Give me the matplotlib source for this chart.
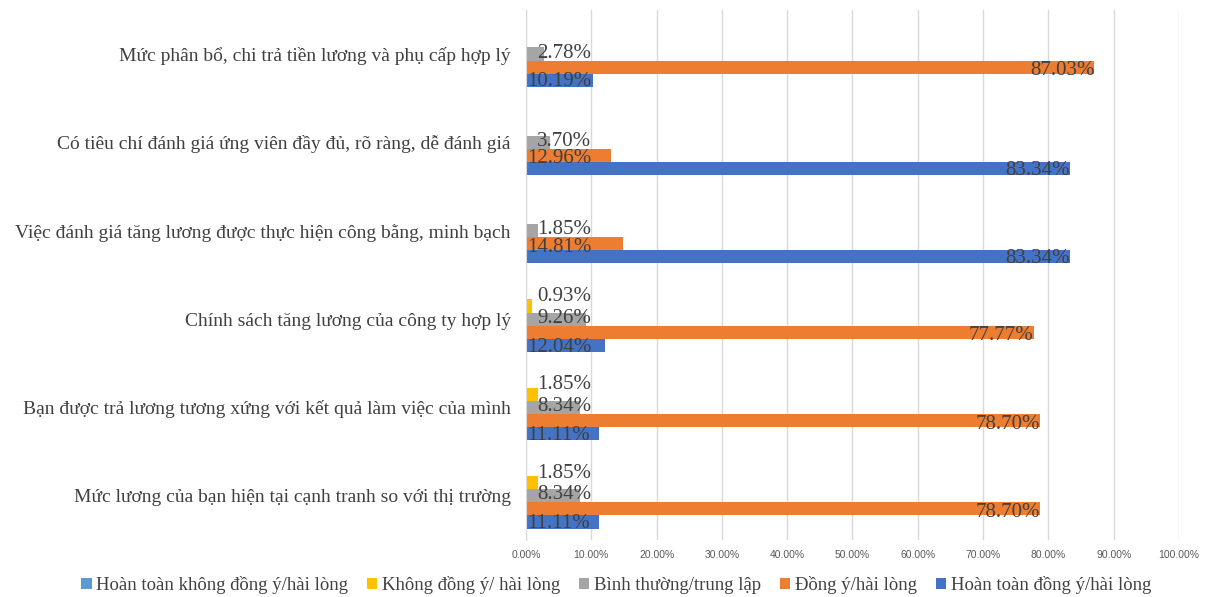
import matplotlib.pyplot as plt
import numpy as np

categories = [
    'Mức phân bổ, chi trả tiền lương và phụ cấp hợp lý',
    'Có tiêu chí đánh giá ứng viên đầy đủ, rõ ràng, dễ đánh giá',
    'Việc đánh giá tăng lương được thực hiện công bằng, minh bạch',
    'Chính sách tăng lương của công ty hợp lý',
    'Bạn được trả lương tương xứng với kết quả làm việc của mình',
    'Mức lương của bạn hiện tại cạnh tranh so với thị trường',
]
series_names = ['Hoàn toàn không đồng ý/hài lòng', 'Không đồng ý/ hài lòng',
                'Bình thường/trung lập', 'Đồng ý/hài lòng', 'Hoàn toàn đồng ý/hài lòng']
rat_kd = [0, 0, 0, 0, 0, 0]
kd = [0, 0, 0, 0.93, 1.85, 1.85]
binh_thuong = [2.78, 3.70, 1.85, 9.26, 8.34, 8.34]
dong_y = [87.03, 12.96, 14.81, 77.77, 78.70, 78.70]
rat_dy = [10.19, 83.34, 83.34, 12.04, 11.11, 11.11]
ticks = np.arange(0, 101, 10)

series = [rat_kd, kd, binh_thuong, dong_y, rat_dy]
colors = ['#5B9BD5', '#FFC000', '#A5A5A5', '#ED7D31', '#4472C4']
# vertical nudge of value labels per series (data units, + is down)
label_dy = [0, -0.11, -0.01, 0.04, 0.02]

serif = 'Liberation Serif'
txt_color = '#404040'

fig = plt.figure(figsize=(12.13, 5.97), dpi=100)
ax = fig.add_axes([0.4336, 0.0955, 0.5384, 0.888])

y = np.arange(len(categories))
h = 0.148
for k, (vals, c) in enumerate(zip(series, colors)):
    pos = y + (k - 2) * h
    ax.barh(pos, vals, height=h, color=c, label=series_names[k], zorder=2)
    for p, v in zip(pos, vals):
        if v == 0:
            continue
        if v >= 20:
            ax.text(v, p + label_dy[k], f'{v:.2f}%', ha='right', va='center',
                    fontsize=15, family=serif, color=txt_color, zorder=3)
        else:
            ax.text(0.2 if v > 9.5 else 1.7, p + label_dy[k], f'{v:.2f}%',
                    ha='left', va='center', fontsize=15, family=serif,
                    color=txt_color, zorder=3)

ax.set_ylim(len(categories) - 0.5, -0.5)
ax.set_xlim(0, 100)
ax.set_yticks(y)
ax.set_yticklabels(categories, family=serif, fontsize=14, color=txt_color)
ax.set_xticks(ticks)
ax.set_xticklabels([f'{t:.2f}%' for t in ticks], fontsize=7.5, color='#595959',
                   family='Liberation Sans')
ax.tick_params(length=0, axis='both')
ax.tick_params(axis='x', pad=7)
ax.tick_params(axis='y', pad=11)
ax.grid(axis='x', color='#D9D9D9', linewidth=1, zorder=0)
for s in ['top', 'right', 'bottom']:
    ax.spines[s].set_visible(False)
ax.spines['left'].set_color('#D9D9D9')

fig.legend(loc='center', bbox_to_anchor=(0.508, 0.02), ncol=5, frameon=False,
           prop={'family': serif, 'size': 13.5}, handlelength=0.55, handleheight=0.55,
           handletextpad=0.25, columnspacing=1.0, labelcolor=txt_color)

fig.savefig('out.png', dpi=100)
